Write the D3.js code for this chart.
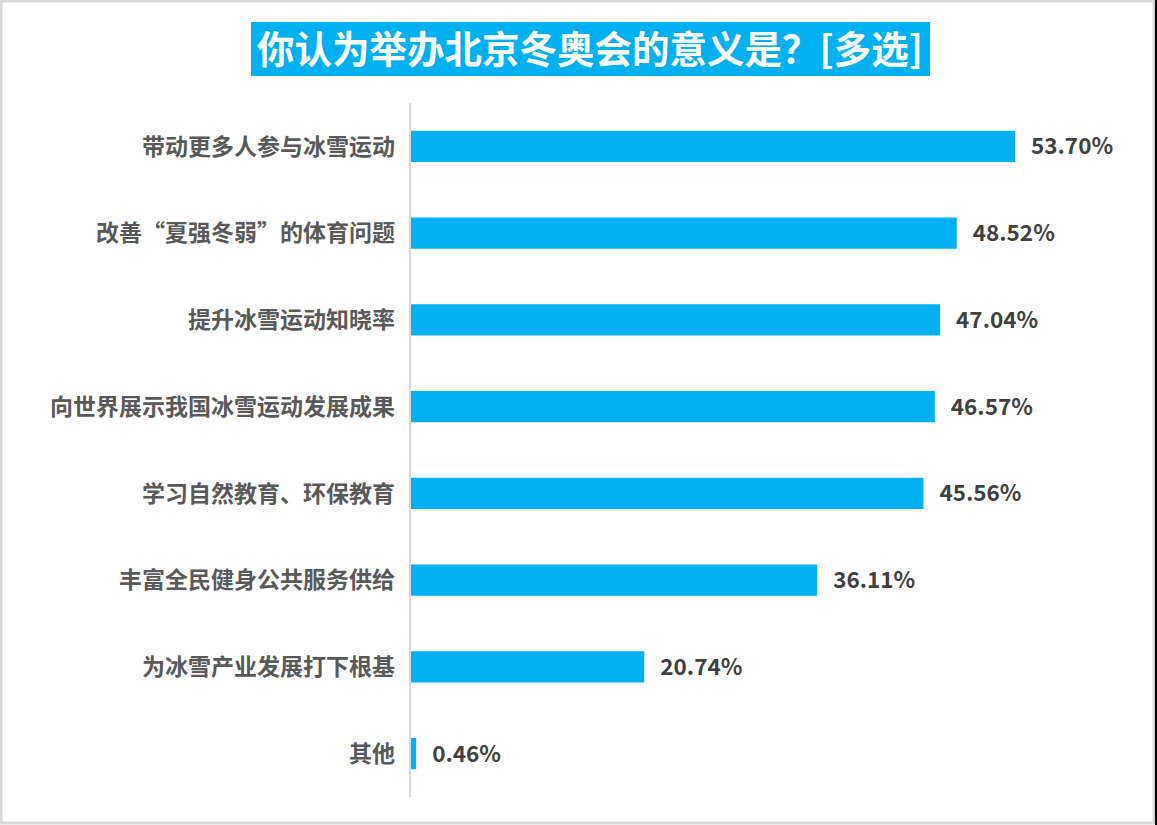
<!DOCTYPE html>
<html>
<head>
<meta charset="utf-8">
<script src="https://cdn.jsdelivr.net/npm/d3@7"></script>
<style>
body{margin:0;padding:0;background:#fff;}
svg{display:block;font-family:"Microsoft YaHei","Noto Sans CJK SC",sans-serif;}
</style>
</head>
<body>
<div id="chart"></div>
<script>
var categories=["带动更多人参与冰雪运动","改善“夏强冬弱”的体育问题","提升冰雪运动知晓率","向世界展示我国冰雪运动发展成果","学习自然教育、环保教育","丰富全民健身公共服务供给","为冰雪产业发展打下根基","其他"];
var values=[53.70,48.52,47.04,46.57,45.56,36.11,20.74,0.46];
var title="你认为举办北京冬奥会的意义是？[多选]";

var width=1157,height=825;
var svg=d3.select("#chart").append("svg").attr("width",width).attr("height",height);

// frame
svg.append("rect").attr("x",1).attr("y",1).attr("width",width-4).attr("height",height-3)
    .attr("fill","#fff").attr("stroke","#d9d9d9").attr("stroke-width",3);
svg.append("rect").attr("x",width-2).attr("y",0).attr("width",2).attr("height",height).attr("fill","#000");

// title
var tg=svg.append("g");
tg.append("rect").attr("x",251).attr("y",22).attr("width",679).attr("height",54).attr("fill","#00b0f0");
tg.append("text").attr("x",590).attr("y",49).attr("dy","0.36em").attr("text-anchor","middle")
    .attr("fill","#fff").attr("font-size",37.5).attr("font-weight","bold").text(title);

var x=d3.scaleLinear().domain([0,53.70]).range([411,1015]);
var y=d3.scaleBand().domain(categories).range([103,797]).paddingInner(0.64).paddingOuter(0.32);

svg.append("line").attr("x1",410).attr("x2",410).attr("y1",103).attr("y2",797)
    .attr("stroke","#d9d9d9").attr("stroke-width",2);

svg.selectAll("rect.bar").data(values).enter().append("rect").attr("class","bar")
    .attr("x",x(0))
    .attr("y",function(d,i){return y(categories[i]);})
    .attr("width",function(d){return x(d)-x(0);})
    .attr("height",y.bandwidth())
    .attr("fill","#00b0f0");

svg.selectAll("text.cat").data(categories).enter().append("text").attr("class","cat")
    .attr("x",395)
    .attr("y",function(d){return y(d)+y.bandwidth()/2;})
    .attr("dy","0.36em")
    .attr("text-anchor","end")
    .attr("font-size",23).attr("font-weight","bold").attr("fill","#595959")
    .text(function(d){return d;});

svg.selectAll("text.val").data(values).enter().append("text").attr("class","val")
    .attr("x",function(d){return x(d)+16;})
    .attr("y",function(d,i){return y(categories[i])+y.bandwidth()/2;})
    .attr("dy","0.36em")
    .attr("font-size",22.5).attr("font-weight","bold").attr("fill","#404040")
    .text(function(d){return d.toFixed(2)+"%";});
</script>
</body>
</html>
